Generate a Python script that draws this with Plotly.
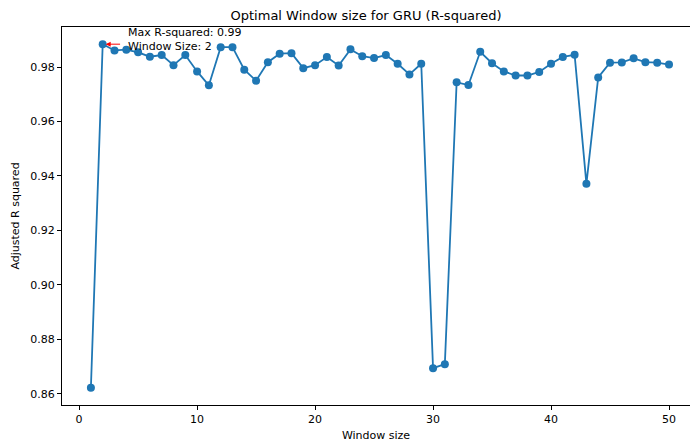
import plotly.graph_objects as go

window_sizes = list(range(1, 51))
adj_r2 = [0.8622, 0.9884, 0.9861, 0.9864, 0.9854, 0.9838, 0.9844, 0.9807, 0.9844, 0.9784,
          0.9733, 0.9873, 0.9873, 0.9790, 0.9750, 0.9818, 0.9849, 0.9851, 0.9796, 0.9807,
          0.9837, 0.9806, 0.9865, 0.9840, 0.9833, 0.9844, 0.9812, 0.9773, 0.9812, 0.8694,
          0.8709, 0.9744, 0.9734, 0.9856, 0.9814, 0.9784, 0.9769, 0.9769, 0.9782, 0.9812,
          0.9837, 0.9845, 0.9371, 0.9762, 0.9816, 0.9817, 0.9832, 0.9818, 0.9816, 0.9809]
x_ticks = [0, 10, 20, 30, 40, 50]
y_ticks = [0.86, 0.88, 0.90, 0.92, 0.94, 0.96, 0.98]

best_i = max(range(len(adj_r2)), key=lambda i: adj_r2[i])
best_x = window_sizes[best_i]
best_y = adj_r2[best_i]

FONT = "DejaVu Sans"
fig = go.Figure()
fig.add_trace(go.Scatter(
    x=window_sizes, y=adj_r2, mode="lines+markers",
    line=dict(color="#1f77b4", width=1.8),
    marker=dict(color="#1f77b4", size=8),
    showlegend=False,
))

# arrow
fig.add_annotation(x=best_x, y=best_y, ax=best_x + 1.6, ay=best_y, xref="x", yref="y",
                   axref="x", ayref="y", text="", showarrow=True,
                   arrowhead=2, arrowsize=1, arrowwidth=1, arrowcolor="red", standoff=3)
# text
fig.add_annotation(x=best_x + 1.95, y=best_y, xref="x", yref="y", showarrow=False,
                   text=f"Max R-squared: {best_y:.2f}<br>Window Size: {best_x}",
                   xanchor="left", yanchor="middle", align="left",
                   font=dict(family=FONT, size=11, color="black"), yshift=5)

ymin, ymax = min(adj_r2), max(adj_r2)
ypad = (ymax - ymin) * 0.05
xpad = 49 * 0.05
fig.update_layout(
    width=691, height=445,
    margin=dict(l=62, r=1, t=27, b=40),
    paper_bgcolor="white", plot_bgcolor="white",
    font=dict(family=FONT, size=11, color="black"),
    title=dict(text="Optimal Window size for GRU (R-squared)", x=366 / 691,
               xanchor="center", y=1 - 15 / 445, yanchor="middle", yref="container",
               font=dict(family=FONT, size=13, color="black")),
    xaxis=dict(range=[1 - xpad, 51.78], tickvals=x_ticks,
               showgrid=False, zeroline=False, showline=True, mirror=True,
               linecolor="black", linewidth=1, ticks="outside", ticklen=4,
               tickcolor="black",
               title=dict(text="Window size", font=dict(family=FONT, size=11), standoff=6)),
    yaxis=dict(range=[ymin - ypad, ymax + ypad], tickvals=y_ticks,
               tickformat=".2f",
               showgrid=False, zeroline=False, showline=True, mirror=False,
               linecolor="black", linewidth=1, ticks="outside", ticklen=4,
               tickcolor="black",
               title=dict(text="Adjusted R squared", font=dict(family=FONT, size=11), standoff=8)),
)
fig.write_html("out.html")
